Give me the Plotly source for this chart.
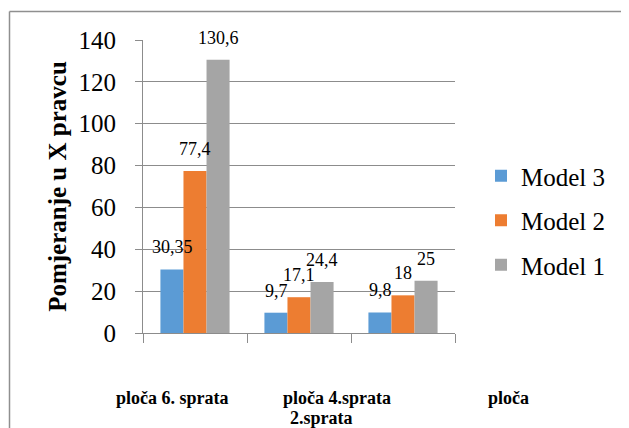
import plotly.graph_objects as go

categories = ["ploča 6. sprata", "ploča 4.sprata", "ploča 2.sprata"]
model3 = [30.35, 9.7, 9.8]
model2 = [77.4, 17.1, 18]
model1 = [130.6, 24.4, 25]
model3_labels = ["30,35", "9,7", "9,8"]
model2_labels = ["77,4", "17,1", "18"]
model1_labels = ["130,6", "24,4", "25"]
y_ticks = [0, 20, 40, 60, 80, 100, 120, 140]

OFF = 8  # page body margin
W, H = 629, 428
L = 143 - OFF
T = 40 - OFF
R = W - (455 - OFF)
B = H - (333 - OFF)
pw, ph = W - L - R, H - T - B

serif = "Times New Roman"
colors = {"Model 3": "#5B9BD5", "Model 2": "#ED7D31", "Model 1": "#A5A5A5"}

fig = go.Figure()
series = [("Model 3", model3, model3_labels, -23),
          ("Model 2", model2, model2_labels, 0),
          ("Model 1", model1, model1_labels, 23)]
for name, vals, labs, _ in series:
    fig.add_trace(go.Bar(x=categories, y=vals, name=name, legendgroup=name,
                         marker=dict(color=colors[name], line=dict(width=0))))

annotations = []
for name, vals, labs, dx in series:
    for c, v, t in zip(categories, vals, labs):
        annotations.append(dict(x=c, y=v, text=t, showarrow=False, xshift=dx, yshift=22,
                                yanchor="middle", xanchor="center",
                                font=dict(family=serif, size=18, color="#000")))

def px_x(x):
    return (x - OFF - L) / pw

def px_y(y):
    return (H - B - (y - OFF)) / ph

cat_text = [("ploča 6. sprata", 172, 398), ("ploča 4.sprata", 337, 398),
            ("2.sprata", 321, 418), ("ploča", 508, 398)]
for t, x, y in cat_text:
    annotations.append(dict(x=px_x(x), y=px_y(y), xref="paper", yref="paper", text="<b>%s</b>" % t,
                            showarrow=False, xanchor="center", yanchor="middle",
                            font=dict(family=serif, size=18, color="#000")))

fig.update_layout(
    width=W, height=H,
    margin=dict(l=L, r=R, t=T, b=B),
    paper_bgcolor="white", plot_bgcolor="white",
    barmode="group", bargap=0.335, bargroupgap=0,
    font=dict(family=serif, color="#000"),
    showlegend=True,
    legend=dict(x=px_x(481), y=px_y(153), xanchor="left", yanchor="top",
                font=dict(family=serif, size=25, color="#000"),
                traceorder="grouped", tracegroupgap=9, bgcolor="rgba(0,0,0,0)"),
    annotations=annotations,
    shapes=[
        dict(type="line", xref="paper", yref="paper", x0=px_x(9.5), x1=px_x(650), y0=px_y(11.5), y1=px_y(11.5),
             line=dict(color="#8f8f8f", width=1.5)),
        dict(type="line", xref="paper", yref="paper", x0=px_x(9.5), x1=px_x(9.5), y0=px_y(11.5), y1=px_y(450),
             line=dict(color="#8f8f8f", width=1.5)),
    ],
)
fig.update_xaxes(type="category", showticklabels=False, showline=True, linecolor="#8c8c8c", linewidth=1,
                 ticks="outside", tickson="boundaries", ticklen=9, tickcolor="#8c8c8c", showgrid=False,
                 range=[-0.5, 2.5])
fig.update_yaxes(range=[0, 140], tickvals=y_ticks, showgrid=True, gridcolor="#8c8c8c", gridwidth=1,
                 showline=True, linecolor="#8c8c8c", linewidth=1, ticks="outside", ticklen=7,
                 tickcolor="#8c8c8c", zeroline=False, ticklabelstandoff=14,
                 tickfont=dict(family=serif, size=25, color="#000"),
                 title=dict(text="<b>Pomjeranje u X pravcu</b>", standoff=4,
                            font=dict(family=serif, size=25, color="#000")))

fig.write_html("out.html")
